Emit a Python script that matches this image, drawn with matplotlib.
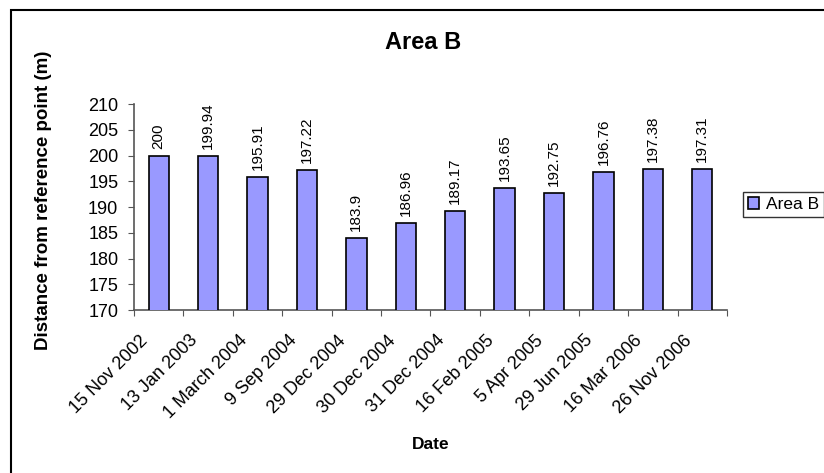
import matplotlib
matplotlib.use('Agg')
import matplotlib.pyplot as plt
import matplotlib.transforms as mtransforms
from matplotlib.patches import Rectangle
import numpy as np

plt.rcParams['font.family'] = ['Liberation Sans', 'DejaVu Sans']

dates = ['15 Nov 2002', '13 Jan 2003', '1 March 2004', '9 Sep 2004',
         '29 Dec 2004', '30 Dec 2004', '31 Dec 2004', '16 Feb 2005',
         '5 Apr 2005', '29 Jun 2005', '16 Mar 2006', '26 Nov 2006']
distance = [200, 199.94, 195.91, 197.22, 183.9, 186.96,
            189.17, 193.65, 192.75, 196.76, 197.38, 197.31]
value_labels = ['200', '199.94', '195.91', '197.22', '183.9', '186.96',
                '189.17', '193.65', '192.75', '196.76', '197.38', '197.31']
y_ticks = [170, 175, 180, 185, 190, 195, 200, 205, 210]

fig = plt.figure(figsize=(8.24, 4.73), dpi=100)
ax = fig.add_axes([0.1626, 0.3446, 0.7197, 0.4355])

x = np.arange(len(dates))
bars = ax.bar(x, distance, width=0.41, color='#9999FF', edgecolor='black',
              linewidth=1.2, label='Area B', zorder=3)

# value labels on top of each bar
for xi, v, lab in zip(x, distance, value_labels):
    ax.annotate(lab, (xi, v), xytext=(0, 5), textcoords='offset points',
                rotation=90, ha='center', va='bottom', fontsize=11)

ax.set_xlim(-0.5, len(dates) - 0.5)
ax.set_ylim(170, 210)
ax.set_yticks(y_ticks)
ax.tick_params(axis='y', labelsize=13, length=4.3, pad=7, color='#555555')

# ticks sit between categories, date labels drawn separately
ax.set_xticks(np.arange(-0.5, len(dates), 1))
ax.set_xticklabels([])
ax.tick_params(axis='x', length=4.3, color='#555555')

offset = mtransforms.ScaledTranslation(-0.13, -0.28, fig.dpi_scale_trans)
trans = mtransforms.blended_transform_factory(ax.transData, ax.transAxes) + offset
for xi, d in zip(x, dates):
    ax.text(xi, 0, d, transform=trans, rotation=45, rotation_mode='anchor',
            ha='right', va='center', fontsize=13)

for side in ['top', 'right']:
    ax.spines[side].set_visible(False)
for side in ['left', 'bottom']:
    ax.spines[side].set_color('#555555')
    ax.spines[side].set_linewidth(1.2)

fig.text(0.513, 0.911, 'Area B', ha='center', va='center',
         fontsize=17, fontweight='bold')
fig.text(0.0528, 0.577, 'Distance from reference point (m)', rotation=90,
         ha='center', va='center', fontsize=13.5, fontweight='bold')
fig.text(0.5225, 0.0613, 'Date', ha='center', va='center',
         fontsize=12.5, fontweight='bold')

leg = ax.legend(loc='upper left', bbox_to_anchor=(743 / 824, 1 - 192 / 473),
                bbox_transform=fig.transFigure, fontsize=12.5, frameon=True,
                fancybox=False, borderpad=0.3, handlelength=0.65,
                handleheight=0.65, handletextpad=0.35, borderaxespad=0)
leg.get_frame().set_edgecolor('black')
leg.get_frame().set_linewidth(1.0)

# chart area border
fig.add_artist(Rectangle((11 / 824, -0.2), 1.2, 1.2 - 10 / 473 + 0.0,
                         transform=fig.transFigure, fill=False,
                         edgecolor='black', linewidth=1.5))

fig.savefig('out.png', dpi=100)
